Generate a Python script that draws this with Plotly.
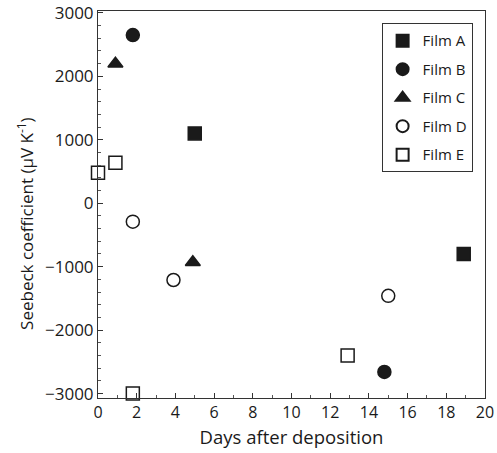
import plotly.graph_objects as go

# Seebeck coefficient of five films measured over days after deposition
film_a_days = [5.0, 18.9]
film_a_seebeck = [1100, -800]

film_b_days = [1.8, 14.8]
film_b_seebeck = [2650, -2660]

film_c_days = [0.9, 4.9]
film_c_seebeck = [2200, -930]

film_d_days = [1.8, 3.9, 15.0]
film_d_seebeck = [-290, -1210, -1460]

film_e_days = [0.0, 0.9, 1.8, 12.9]
film_e_seebeck = [480, 640, -3000, -2400]

x_ticks = [0, 2, 4, 6, 8, 10, 12, 14, 16, 18, 20]
y_ticks = [-3000, -2000, -1000, 0, 1000, 2000, 3000]

FONT = "Open Sans"
INK = "#1a1a1a"

series = [
    ("Film A", film_a_days, film_a_seebeck, "square", INK),
    ("Film B", film_b_days, film_b_seebeck, "circle", INK),
    ("Film C", film_c_days, film_c_seebeck, "triangle-up", INK),
    ("Film D", film_d_days, film_d_seebeck, "circle", "white"),
    ("Film E", film_e_days, film_e_seebeck, "square", "white"),
]

fig = go.Figure()
for name, xs, ys, symbol, fill in series:
    fig.add_trace(go.Scatter(
        x=xs, y=ys, mode="markers", name=name, legendgroup=name,
        marker=dict(symbol=symbol, size=13, color=fill,
                    line=dict(color=INK, width=1.5)),
        cliponaxis=False,
    ))

fig.update_layout(
    width=497, height=453,
    margin=dict(l=98, r=12, t=11, b=55),
    paper_bgcolor="white", plot_bgcolor="white",
    font=dict(family=FONT, size=15, color=INK),
    showlegend=True,
    legend=dict(
        x=0.968, y=0.968, xanchor="right", yanchor="top",
        bgcolor="white", bordercolor="#333", borderwidth=1,
        font=dict(family=FONT, size=15, color=INK),
        itemsizing="constant", tracegroupgap=6,
    ),
    xaxis=dict(
        range=[0, 20], tickvals=x_ticks, ticks="inside", ticklen=5,
        tickcolor="#333", tickfont=dict(size=16), automargin=False,
        minor=dict(dtick=1, ticks="inside", ticklen=3, tickcolor="#555"),
        showline=True, linecolor="#333", linewidth=1, mirror=True,
        showgrid=False, zeroline=False,
        title=dict(text="Days after deposition", font=dict(size=18.5), standoff=8),
    ),
    yaxis=dict(
        range=[-3070, 3030], tickvals=y_ticks, ticks="inside", ticklen=5,
        tickcolor="#333", tickfont=dict(size=17), automargin=False,
        minor=dict(dtick=200, ticks="inside", ticklen=3, tickcolor="#555"),
        showline=True, linecolor="#333", linewidth=1, mirror=True,
        showgrid=False, zeroline=False,
    ),
    annotations=[dict(
        text="Seebeck coefficient (μV K<sup>-1</sup>)",
        xref="paper", yref="paper", x=-0.189, y=0.452,
        xanchor="center", yanchor="middle", textangle=-90,
        showarrow=False, font=dict(family=FONT, size=17, color=INK),
    )],
)

fig.write_html("out.html")
